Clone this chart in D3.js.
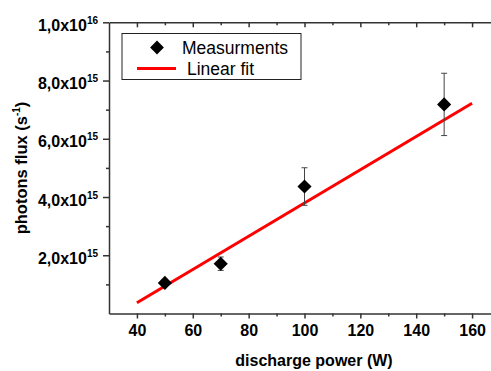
<!DOCTYPE html>
<html>
<head>
<meta charset="utf-8">
<script src="https://cdn.jsdelivr.net/npm/d3@7"></script>
<style>
body { margin: 0; background: #fff; }
svg { display: block; font-family: "Liberation Sans", Arial, sans-serif; }
.axis path, .axis line { stroke: #333; stroke-width: 1.5; }
.axis text { font-weight: bold; font-size: 16px; fill: #000; font-family: "Liberation Sans", Arial, sans-serif; }
</style>
</head>
<body>
<div id="chart"></div>
<script>
// measured data
var power = [50, 70, 100, 150];
var flux = [1.05e15, 1.71e15, 4.36e15, 7.18e15];
var fluxErr = [0.12e15, 0.23e15, 0.645e15, 1.07e15];

// linear fit end points
var fitPower = [40, 160];
var fitFlux = [0.37e15, 7.22e15];

var xTicks = [40, 60, 80, 100, 120, 140, 160];
var xMinor = [50, 70, 90, 110, 130, 150];
var yTicks = [2e15, 4e15, 6e15, 8e15, 1e16];
var yMinor = [1e15, 3e15, 5e15, 7e15, 9e15];
var yTickMant = ["2,0x10", "4,0x10", "6,0x10", "8,0x10", "1,0x10"];
var yTickExp = ["15", "15", "15", "15", "16"];

var legendNames = ["Measurments", "Linear fit"];

var width = 491, height = 371;

var svg = d3.select("#chart").append("svg")
  .attr("width", width)
  .attr("height", height);

var x = d3.scaleLinear().domain([30, 170]).range([109, 500]);
var y = d3.scaleLinear().domain([0, 1e16]).range([313.5, 22.3]);

// bottom axis
svg.append("g")
  .attr("class", "axis")
  .attr("transform", "translate(0," + y(0) + ")")
  .call(d3.axisBottom(x).tickValues(xTicks).tickSize(5).tickSizeOuter(0).tickPadding(6));
svg.append("g")
  .attr("class", "axis")
  .attr("transform", "translate(0," + y(0) + ")")
  .call(d3.axisBottom(x).tickValues(xMinor).tickSize(3).tickFormat(""))
  .call(g => g.select(".domain").remove());

// top axis (ticks pointing in)
svg.append("g")
  .attr("class", "axis")
  .attr("transform", "translate(0," + y(1e16) + ")")
  .call(d3.axisBottom(x).tickValues(xTicks).tickSize(5).tickSizeOuter(0).tickFormat(""));
svg.append("g")
  .attr("class", "axis")
  .attr("transform", "translate(0," + y(1e16) + ")")
  .call(d3.axisBottom(x).tickValues(xMinor).tickSize(3).tickFormat(""))
  .call(g => g.select(".domain").remove());

// left axis
var yAxis = svg.append("g")
  .attr("class", "axis")
  .attr("transform", "translate(" + x(30) + ",0)")
  .call(d3.axisLeft(y).tickValues(yTicks).tickSize(6).tickSizeOuter(0).tickPadding(5).tickFormat(""));
svg.append("g")
  .attr("class", "axis")
  .attr("transform", "translate(" + x(30) + ",0)")
  .call(d3.axisLeft(y).tickValues(yMinor).tickSize(3).tickFormat(""))
  .call(g => g.select(".domain").remove());

yAxis.selectAll(".tick text").each(function(d, i) {
  var t = d3.select(this).attr("dy", "0.5em");
  t.append("tspan").text(yTickMant[i]);
  t.append("tspan").attr("font-size", "10px").attr("dy", -7).text(yTickExp[i]);
});

// right axis (falls past the edge)
svg.append("g")
  .attr("class", "axis")
  .attr("transform", "translate(" + x(170) + ",0)")
  .call(d3.axisRight(y).tickValues(yTicks).tickSize(5).tickSizeOuter(0).tickFormat(""));

// fit line
var line = d3.line()
  .x(function(d, i) { return x(fitPower[i]); })
  .y(function(d, i) { return y(fitFlux[i]); });

svg.append("path")
  .datum(fitPower)
  .attr("d", line)
  .attr("fill", "none")
  .attr("stroke", "#ff0000")
  .attr("stroke-width", 3);

// error bars
var eb = svg.append("g").attr("stroke", "#444").attr("stroke-width", 1);
power.forEach(function(p, i) {
  var top = y(flux[i] + fluxErr[i]), bot = y(flux[i] - fluxErr[i]);
  eb.append("line").attr("x1", x(p)).attr("x2", x(p)).attr("y1", top).attr("y2", bot);
  eb.append("line").attr("x1", x(p) - 3).attr("x2", x(p) + 3).attr("y1", top).attr("y2", top);
  eb.append("line").attr("x1", x(p) - 3).attr("x2", x(p) + 3).attr("y1", bot).attr("y2", bot);
});

// diamonds
var diamond = d3.symbol().type(d3.symbolSquare).size(100);
svg.append("g")
  .selectAll("path")
  .data(power)
  .enter().append("path")
  .attr("d", diamond)
  .attr("fill", "#000")
  .attr("transform", function(d, i) {
    return "translate(" + x(d) + "," + y(flux[i]) + ") rotate(45)";
  });

// legend
var legend = svg.append("g");
legend.append("rect")
  .attr("x", 122).attr("y", 33.5)
  .attr("width", 179).attr("height", 46)
  .attr("fill", "#fff")
  .attr("stroke", "#222")
  .attr("stroke-width", 1);
legend.append("path")
  .attr("d", d3.symbol().type(d3.symbolSquare).size(95)())
  .attr("transform", "translate(157,47.5) rotate(45)")
  .attr("fill", "#000");
legend.append("line")
  .attr("x1", 137).attr("x2", 176)
  .attr("y1", 68.5).attr("y2", 68.5)
  .attr("stroke", "#ff0000").attr("stroke-width", 3);
legend.append("text")
  .attr("x", 182).attr("y", 53.5)
  .attr("font-size", "17.5px")
  .text(legendNames[0]);
legend.append("text")
  .attr("x", 187).attr("y", 75)
  .attr("font-size", "17.5px")
  .text(legendNames[1]);

// axis titles
svg.append("text")
  .attr("x", 314).attr("y", 366)
  .attr("text-anchor", "middle")
  .attr("font-weight", "bold")
  .attr("font-size", "16px")
  .text("discharge power (W)");

var yt = svg.append("text")
  .attr("transform", "translate(27,168) rotate(-90)")
  .attr("text-anchor", "middle")
  .attr("font-weight", "bold")
  .attr("font-size", "16.5px");
yt.append("tspan").text("photons flux (s");
yt.append("tspan").attr("font-size", "10px").attr("dy", -7).text("-1");
yt.append("tspan").attr("dy", 7).text(")");
</script>
</body>
</html>
